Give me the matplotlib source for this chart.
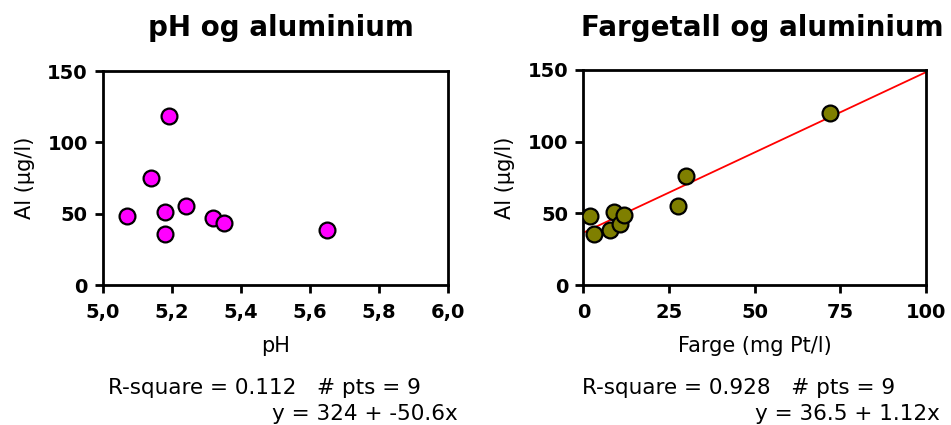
"""
Scatter plots: pH / colour vs. aluminium, with regression stats.
"""

import matplotlib.pyplot as plt

# left panel: pH vs Al
ph = [5.07, 5.14, 5.19, 5.18, 5.18, 5.24, 5.32, 5.35, 5.65]
al_ph = [48.6, 75.2, 118.5, 51.2, 36.0, 55.6, 47.2, 43.2, 38.8]
ph_ticks = [5.0, 5.2, 5.4, 5.6, 5.8, 6.0]
ph_ticklabels = ["5,0", "5,2", "5,4", "5,6", "5,8", "6,0"]

# right panel: colour (mg Pt/l) vs Al
farge = [2.0, 3.1, 7.8, 8.9, 10.7, 11.8, 27.5, 29.9, 72.0]
al_farge = [48.4, 35.8, 38.4, 51.2, 42.8, 48.6, 55.3, 76.0, 119.8]
farge_ticks = [0, 25, 50, 75, 100]

al_ticks = [0, 50, 100, 150]

# regression stats as printed on the chart
fit_ph = (324, -50.6)
fit_farge = (36.5, 1.12)
stats_ph = ("R-square = 0.112   # pts = 9", "y = 324 + -50.6x")
stats_farge = ("R-square = 0.928   # pts = 9", "y = 36.5 + 1.12x")


def style_axes(ax):
    for spine in ax.spines.values():
        spine.set_linewidth(2)
        spine.set_color("black")
    ax.tick_params(direction="out", length=6, width=2)
    ax.tick_params(axis="x", pad=7)
    ax.tick_params(axis="y", pad=5)
    for lab in ax.get_xticklabels() + ax.get_yticklabels():
        lab.set_fontweight("bold")
        lab.set_fontsize(14)
        lab.set_family("DejaVu Sans")


def main():
    fig = plt.figure(figsize=(9.51, 4.25), dpi=100)

    ax1 = fig.add_axes([0.1083, 0.3294, 0.3628, 0.5035])
    ax2 = fig.add_axes([0.6134, 0.3294, 0.3604, 0.506])

    # left
    ax1.scatter(ph, al_ph, s=130, c="#ff00ff", edgecolors="black",
                linewidths=1.6, zorder=3)
    ax1.set_xlim(5.0, 6.0)
    ax1.set_ylim(0, 150)
    ax1.set_xticks(ph_ticks)
    ax1.set_xticklabels(ph_ticklabels)
    ax1.set_yticks(al_ticks)
    ax1.set_xlabel("pH", fontsize=15, labelpad=10)
    ax1.set_ylabel("Al (µg/l)", fontsize=15, labelpad=9)
    style_axes(ax1)

    # right
    x_line = [0, 100]
    y_line = [fit_farge[0] + fit_farge[1] * x for x in x_line]
    ax2.plot(x_line, y_line, color="red", linewidth=1.3, zorder=2)
    ax2.scatter(farge, al_farge, s=130, c="#7f7f00", edgecolors="black",
                linewidths=1.6, zorder=3)
    ax2.set_xlim(0, 100)
    ax2.set_ylim(0, 150)
    ax2.set_xticks(farge_ticks)
    ax2.set_yticks(al_ticks)
    ax2.set_xlabel("Farge (mg Pt/l)", fontsize=15, labelpad=10)
    ax2.set_ylabel("Al (µg/l)", fontsize=15, labelpad=9)
    style_axes(ax2)

    # titles
    fig.text(281 / 951, 1 - 28 / 425, "pH og aluminium", ha="center",
             va="center", fontsize=20, fontweight="bold")
    fig.text(762 / 951, 1 - 28 / 425, "Fargetall og aluminium", ha="center",
             va="center", fontsize=20, fontweight="bold")

    # stats text
    fig.text(108 / 951, 1 - 388 / 425, stats_ph[0], ha="left", va="center",
             fontsize=15.5)
    fig.text(458 / 951, 1 - 414 / 425, stats_ph[1], ha="right", va="center",
             fontsize=15.5)
    fig.text(582 / 951, 1 - 388 / 425, stats_farge[0], ha="left", va="center",
             fontsize=15.5)
    fig.text(940 / 951, 1 - 414 / 425, stats_farge[1], ha="right", va="center",
             fontsize=15.5)

    fig.savefig("out.png", dpi=100)
    plt.close(fig)


if __name__ == "__main__":
    main()
